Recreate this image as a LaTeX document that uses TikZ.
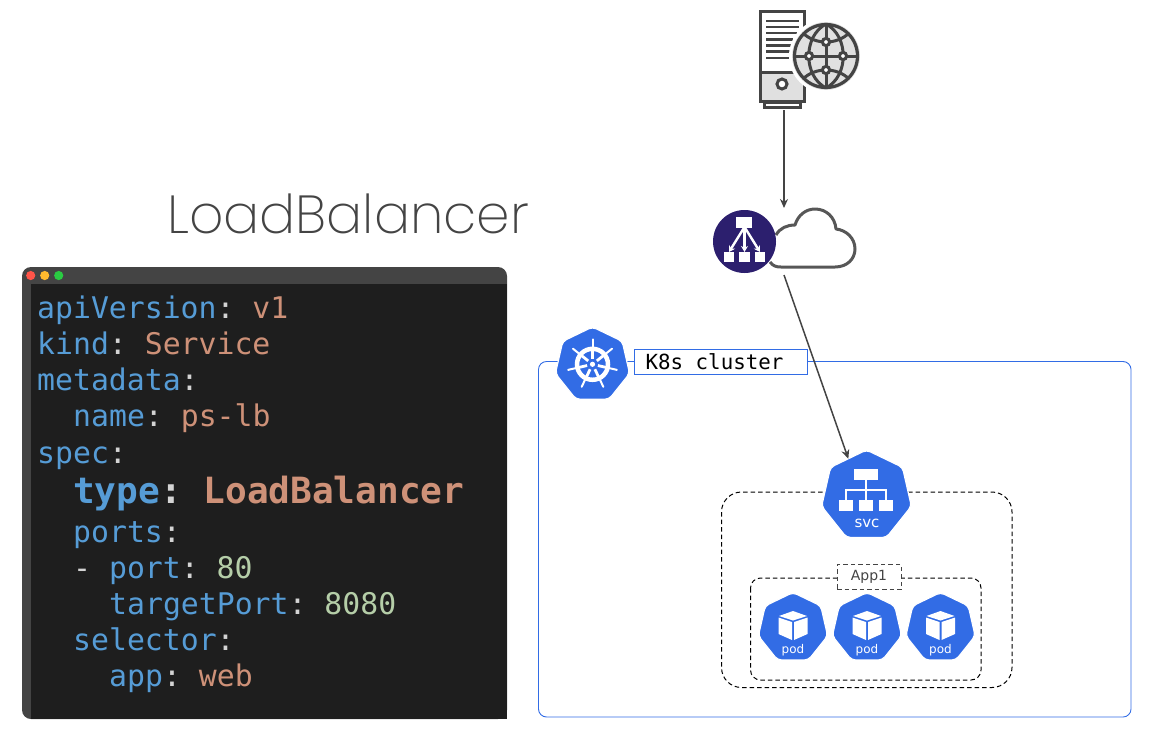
\documentclass[tikz,border=0pt]{standalone}
\usepackage{fontspec}
\setmainfont{DejaVu Sans}
\newfontfamily\titlefont{Poppins ExtraLight}
\newfontfamily\codefont{DejaVu Sans Mono}
\usetikzlibrary{shapes.geometric,arrows.meta}

\definecolor{kubeblue}{HTML}{326CE5}
\definecolor{linegray}{HTML}{444444}
\definecolor{lbpurple}{HTML}{2C1F6E}
\definecolor{codekey}{HTML}{569CD6}
\definecolor{codeval}{HTML}{CE9178}
\definecolor{codenum}{HTML}{B5CEA8}
\definecolor{codepun}{HTML}{D4D4D4}
\definecolor{codebg}{HTML}{1E1E1E}
\definecolor{dotred}{HTML}{FF5449}
\definecolor{dotyellow}{HTML}{FFB92E}
\definecolor{dotgreen}{HTML}{2ACB42}

\newcommand{\ckey}[1]{\textcolor{codekey}{#1}\textcolor{codepun}{:}}
\newcommand{\cval}[1]{\textcolor{codeval}{#1}}
\newcommand{\cnum}[1]{\textcolor{codenum}{#1}}

\tikzset{
  codeline/.style={anchor=base west,inner sep=0pt,font=\codefont\frenchspacing\fontsize{29.8}{36}\selectfont},
  heptagon/.style={regular polygon,regular polygon sides=7,fill=kubeblue,draw=white,line width=1.2pt,
    rounded corners=4pt,inner sep=0pt,outer sep=0pt},
  iconlabel/.style={text=white,inner sep=0pt,font=\fontsize{13}{13}\selectfont},
  arrowline/.style={draw=linegray,line width=1.5pt,-{Stealth[length=9pt,width=8pt]}},
  dashbox/.style={draw=black,line width=1pt,dash pattern=on 4.5pt off 3pt},
  globeline/.style={draw=linegray,line width=3pt},
}

\begin{document}
\begin{tikzpicture}[x=1pt,y=-1pt]
\useasboundingbox (0,0) rectangle (1162,742);

% title
\node[anchor=base west,inner sep=0pt,text=linegray,font=\titlefont\fontsize{53.6}{54}\selectfont] (title) at (167,233) {LoadBalancer};

% editor window
\fill[linegray,rounded corners=9pt] (22,719) -- (22,267) -- (507,267) -- (507,719) -- cycle;
\fill[linegray] (40,700) rectangle (507,719);
\fill[codebg] (31,284) rectangle (507,719);
\fill[dotred] (30.7,275.5) circle (4.6);
\fill[dotyellow] (44.7,275.5) circle (4.6);
\fill[dotgreen] (58.7,275.5) circle (4.6);

% yaml text
\node[codeline] (l1) at (37,318) {\ckey{apiVersion} \cval{v1}};
\node[codeline] (l2) at (37,354) {\ckey{kind} \cval{Service}};
\node[codeline] (l3) at (37,390) {\ckey{metadata}};
\node[codeline] (l4) at (73,426) {\ckey{name} \cval{ps-lb}};
\node[codeline] (l5) at (37,463) {\ckey{spec}};
\node[codeline,font=\codefont\bfseries\frenchspacing\fontsize{36.1}{36}\selectfont] (l6) at (73,503) {\ckey{type} \cval{LoadBalancer}};
\node[codeline] (l7) at (73,542) {\ckey{ports}};
\node[codeline] (l8) at (73,578) {\textcolor{codepun}{-} \ckey{port} \cnum{80}};
\node[codeline] (l9) at (109,614) {\ckey{targetPort} \cnum{8080}};
\node[codeline] (l10) at (73,650) {\ckey{selector}};
\node[codeline] (l11) at (109,686) {\ckey{app} \cval{web}};

% server
\node[minimum width=48pt,minimum height=102pt,inner sep=0pt,outer sep=0pt] (server) at (784,59) {};
\filldraw[fill=black!12,draw=none] (760,72) rectangle (804,101);
\draw[globeline] (760,11.5) rectangle (804,101);
\draw[globeline] (760,72) -- (804,72);
\draw[globeline] (764,102) rectangle (800,107);
\foreach \y/\e in {21/799,27/799,33/797,39.5/793,45.5/791,51.5/790,58/790}
  \draw[globeline,line width=2.6pt] (766,\y) -- (\e,\y);
\filldraw[fill=white,draw=linegray,line width=3pt] (782,84) circle (5);

% globe
\filldraw[fill=black!12,draw=white,line width=3pt] (826,56) circle (35.5);
\draw[globeline,line width=3.2pt] (826,56) circle (31.5);
\draw[globeline] (794,56) -- (858,56);
\draw[globeline] (826,24) -- (826,88);
\draw[globeline] (826,24) .. controls (803,36) and (803,76) .. (826,88);
\draw[globeline] (826,24) .. controls (849,36) and (849,76) .. (826,88);
\draw[globeline] (803,33) .. controls (815,45) and (837,45) .. (849,33);
\draw[globeline] (803,79) .. controls (815,67) and (837,67) .. (849,79);
\foreach \a/\b in {826/42,809/56,843/56,826/70}
  \filldraw[fill=white,draw=linegray,line width=3pt] (\a,\b) circle (3.6);

% cloud
\draw[draw=linegray!90,line width=3pt,line join=round] (770,262) .. controls (773,266) and (776,267) .. (781,267)
  -- (835,267) .. controls (847,267) and (855,259) .. (855,249)
  .. controls (855,238) and (846,230) .. (836,229)
  .. controls (835,217) and (826,209) .. (815,209)
  .. controls (806,209) and (798,215) .. (795,225)
  .. controls (787,225) and (780,228) .. (776,235);
\coordinate (cloudin) at (784,208);
\coordinate (cloudout) at (784,275);

% load balancer
\node[circle,fill=lbpurple,minimum size=63pt,inner sep=0pt,outer sep=0pt] (lb) at (744.5,241.5) {};
\fill[white] (736,217) rectangle (752,228);
\foreach \x in {723.5,739,754.5} \fill[white] (\x,252) rectangle +(10.5,10);
\foreach \x in {729,744.5,760} {
  \draw[white,line width=2.4pt,-{Stealth[length=6pt,width=7pt]}] (744.5,227) -- (\x,252);
}

% cluster
\draw[kubeblue,line width=.9pt,rounded corners=8pt] (538.5,361.5) rectangle (1131,717);
\node[draw=kubeblue,fill=white,line width=.9pt,inner xsep=11pt,inner ysep=0pt,minimum height=25pt,text=black,
  font=\codefont\fontsize{20.8}{20.8}\selectfont] (clusterlabel) at (721,361.5) {K8s cluster\hspace*{13pt}};
\node[heptagon,minimum size=76pt] (k8s) at (592.5,365) {};
\draw[white,line width=4.5pt] (592.5,364.3) circle (15.5);
\fill[white] (592.5,364.3) circle (2.6);
\foreach \k in {0,...,6} {
  \draw[white,line width=2.8pt] ({592.5+5.5*cos(90+\k*360/7)},{364.3-5.5*sin(90+\k*360/7)})
    -- ({592.5+15*cos(90+\k*360/7)},{364.3-15*sin(90+\k*360/7)});
  \draw[white,line width=2pt,line cap=round] ({592.5+15*cos(90+\k*360/7)},{364.3-15*sin(90+\k*360/7)})
    -- ({592.5+25*cos(90+\k*360/7)},{364.3-25*sin(90+\k*360/7)});
}

% app boxes
\draw[dashbox,rounded corners=20pt] (721.5,492) rectangle (1012,687.5);
\draw[dashbox,rounded corners=10pt] (750.5,578) rectangle (981,680);
\node[dashbox,draw=linegray,fill=white,minimum width=64pt,minimum height=25pt,inner sep=0pt,text=linegray,
  font=\fontsize{14}{14}\selectfont] (app) at (869,577) {App1};

% service
\node[heptagon,minimum size=92pt] (svc) at (866.5,496) {};
\fill[white] (854,469) rectangle (878,479.5);
\draw[white,line width=1.6pt] (866,479.5) -- (866,500) (846,500) -- (846,490) -- (886,490) -- (886,500);
\foreach \x in {839,859,879} \fill[white] (\x,500) rectangle +(14,11);
\node[iconlabel,font=\fontsize{15}{15}\selectfont] (svclabel) at (867,523) {svc};

% pods
\foreach \i/\c in {1/793,2/867,3/940.5} {
  \node[heptagon,minimum size=71pt] (pod\i) at (\c,628) {};
  \fill[white] (\c,611) -- (\c+14,616) -- (\c,620.5) -- (\c-14,616) -- cycle;
  \fill[white] (\c-14.5,617.5) -- (\c-1,622) -- (\c-1,640) -- (\c-14.5,634) -- cycle;
  \fill[white] (\c+14.5,617.5) -- (\c+1,622) -- (\c+1,640) -- (\c+14.5,634) -- cycle;
  \node[iconlabel,font=\fontsize{12}{12}\selectfont] (podlabel\i) at (\c,650) {pod};
}

% connectors
\draw[arrowline] (server.south) -- (cloudin);
\draw[arrowline] (cloudout) -- (svc.116);
\end{tikzpicture}
\end{document}
